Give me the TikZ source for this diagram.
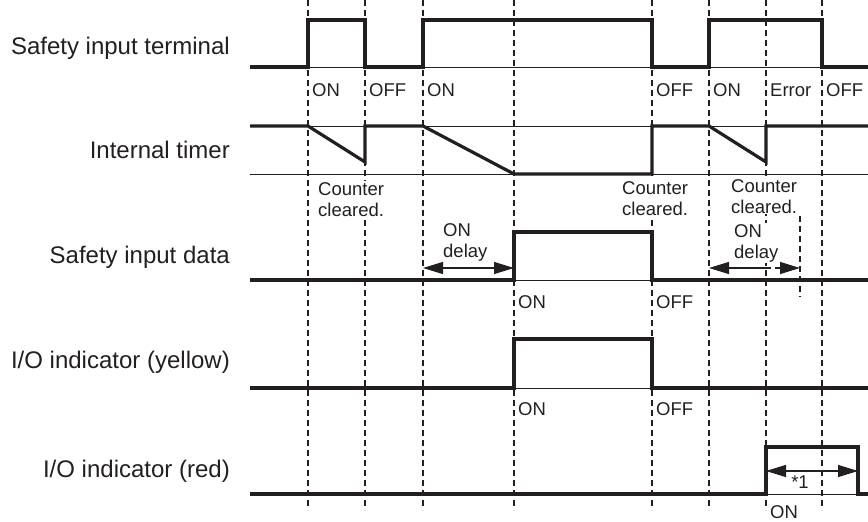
\documentclass[tikz,border=0pt]{standalone}
\usepackage{fontspec}
\setmainfont{Liberation Sans}
\usepackage{xcolor}
\usetikzlibrary{arrows.meta, positioning, calc}
\definecolor{ink}{RGB}{35,31,32}

\begin{document}
\begin{tikzpicture}[x=1pt, y=-1pt, line join=miter, draw=ink,
    >={Triangle[length=20pt,width=12pt]},
    every node/.style={font=\fontsize{18.5}{21}\selectfont, inner sep=1pt, text=ink},
    sig/.style={line width=3.2pt},
    baseln/.style={line width=0.8pt},
    guide/.style={line width=1.1pt, dash pattern=on 6pt off 4pt},
    rowlbl/.style={font=\fontsize{24}{28}\selectfont, anchor=base east, inner sep=0pt},
    tag/.style={anchor=base west},
    note/.style={align=left, anchor=north west, fill=white},
    dim/.style={line width=1.3pt}]
    \useasboundingbox (0,0) rectangle (868,522);

    % edges of the time slots
    \foreach \t/\x in {a/308,b/365,c/423,d/514,e/652,f/709,g/766,h/822} {
      \coordinate (t\t) at (\x,0);
      \draw[guide] (\x,0) -- (\x,510);
    }
    \draw[guide] (800,216) -- (800,297);

    % row names
    \node[rowlbl] (n1) at (230,54.5) {Safety input terminal};
    \node[rowlbl] (n2) at (230,158) {Internal timer};
    \node[rowlbl] (n3) at (230,263) {Safety input data};
    \node[rowlbl] (n4) at (230,368) {I/O indicator (yellow)};
    \node[rowlbl] (n5) at (230,477) {I/O indicator (red)};

    % thin base lines
    \foreach \y in {67,126,174,280,388,494}
      \draw[baseln] (250,\y) -- (868,\y);

    % waveforms
    \draw[sig] (250,67) -- (308,67) -- (308,20) -- (365,20) -- (365,67) -- (423,67) -- (423,20)
      -- (652,20) -- (652,67) -- (709,67) -- (709,20) -- (822,20) -- (822,67) -- (868,67);
    \draw[sig] (250,126) -- (308,126) -- (365,162) -- (365,126) -- (423,126) -- (514,174)
      -- (652,174) -- (652,126) -- (709,126) -- (766,162) -- (766,126) -- (868,126);
    \draw[sig] (250,280) -- (514,280) -- (514,232) -- (652,232) -- (652,280) -- (868,280);
    \draw[sig] (250,388) -- (514,388) -- (514,339) -- (652,339) -- (652,388) -- (868,388);
    \draw[sig] (250,494) -- (766,494) -- (766,447) -- (858,447) -- (858,494) -- (868,494);

    % state labels
    \node[tag] (s1) at (311,96) {ON};
    \node[tag] (s2) at (368,96) {OFF};
    \node[tag] (s3) at (426,96) {ON};
    \node[tag] (s4) at (655,96) {OFF};
    \node[tag] (s5) at (712,96) {ON};
    \node[tag] (s6) at (769,96) {Error};
    \node[tag] (s7) at (825,96) {OFF};
    \node[tag] (d1) at (517,308) {ON};
    \node[tag] (d2) at (655,308) {OFF};
    \node[tag] (y1) at (517,415) {ON};
    \node[tag] (y2) at (655,415) {OFF};
    \node[tag] (r1) at (769,518) {ON};

    \node[note] (c1) at (317,181) {Counter\\cleared.};
    \node[note] (c2) at (621,180) {Counter\\cleared.};
    \node[note] (c3) at (730,178) {Counter\\cleared.};

    % ON delay
    \node[note, fill=none] (w1) at (442,222) {ON\\delay};
    \node[note] (w2) at (733,223) {ON\\delay};
    \coordinate (w1l) at (423,268);
    \coordinate (w1r) at (514,268);
    \draw[dim,<->] (w1l) -- (w1r);
    \coordinate (w2l) at (709,268);
    \coordinate (w2m) at (766,268);
    \coordinate (w2r) at (800,268);
    \draw[dim,->] (w2m) -- (w2l);
    \draw[dim,->,dash pattern=on 5pt off 4pt] (w2m) -- (w2r);

    % red indicator time
    \coordinate (e1l) at (766,471);
    \coordinate (e1r) at (858,471);
    \draw[dim,<->] (e1l) -- (e1r);
    \node[anchor=base] (e1) at (800,488) {*1};
\end{tikzpicture}
\end{document}
